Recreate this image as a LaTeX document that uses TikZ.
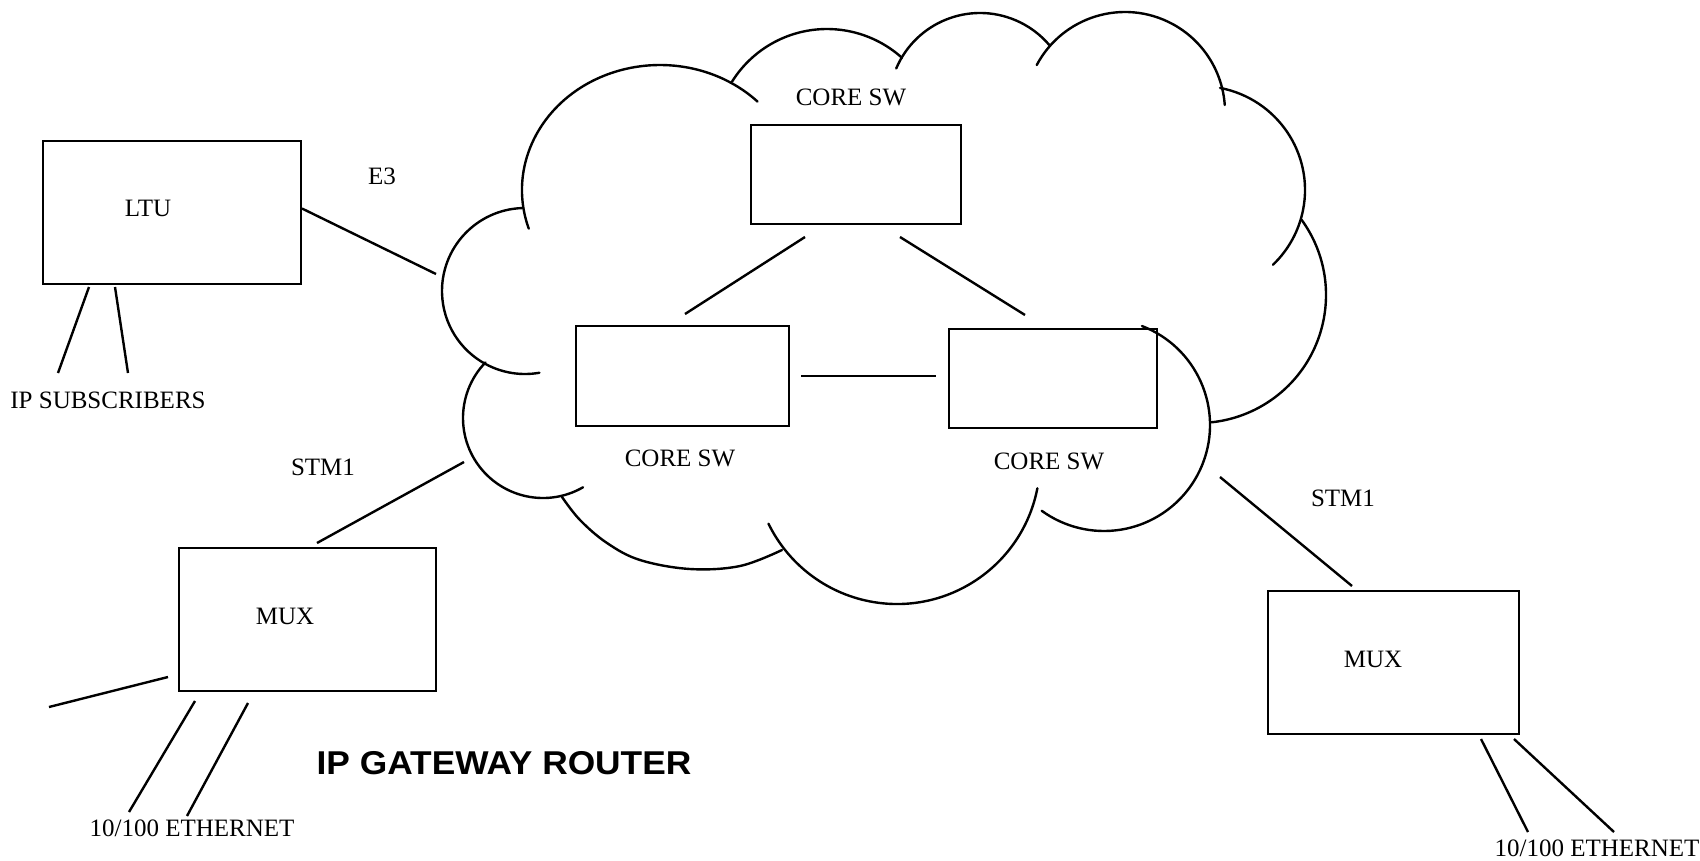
\documentclass[tikz,border=0pt]{standalone}
\usepackage{fontspec}
\usepackage{graphicx}
\setmainfont{Liberation Serif}
\newfontfamily\titlefont{Liberation Sans}
\usetikzlibrary{calc}
\begin{document}
\begin{tikzpicture}[x=1pt,y=-1pt,
  box/.style={draw, line width=2.4pt, rectangle, inner sep=0pt, outer sep=0pt},
  lbl/.style={inner sep=0pt, font=\fontsize{25}{30}\selectfont, text height=16.5pt, text depth=0pt},
  wire/.style={line width=2.4pt},
  cloudline/.style={line width=2.4pt, line cap=round}]
\useasboundingbox[fill=white] (0,0) rectangle (1700,860);

% boxes
\node[box, minimum width=258pt, minimum height=143pt] (ltu) at (172,212.5) {};
\node[box, minimum width=257pt, minimum height=143pt] (muxl) at (307.5,619.5) {};
\node[box, minimum width=251pt, minimum height=143pt] (muxr) at (1393.5,662.5) {};
\node[box, minimum width=210pt, minimum height=99pt] (coret) at (856,174.5) {};
\node[box, minimum width=213pt, minimum height=100pt] (corel) at (682.5,376) {};
\node[box, minimum width=208pt, minimum height=99pt] (corer) at (1053,378.5) {};

% labels
\node[lbl] (tltu) at (148,208) {LTU};
\node[lbl] (te3) at (382,176) {E3};
\node[lbl] (tip) at (108,400) {IP SUBSCRIBERS};
\node[lbl] (tstml) at (323,467) {STM1};
\node[lbl] (tmuxl) at (285,616) {MUX};
\node[lbl] (tethl) at (192,828) {10/100 ETHERNET};
\node[lbl] (tcoret) at (851,97) {CORE SW};
\node[lbl] (tcorel) at (680,458) {CORE SW};
\node[lbl] (tcorer) at (1049,461) {CORE SW};
\node[lbl] (tstmr) at (1343,498) {STM1};
\node[lbl] (tmuxr) at (1373,659) {MUX};
\node[lbl] (tethr) at (1597,848) {10/100 ETHERNET};
\node[inner sep=0pt, font=\titlefont\bfseries\fontsize{33}{38}\selectfont, text height=23.6pt, text depth=0pt] (title) at (504,763) {\scalebox{1.07}[1]{IP GATEWAY ROUTER}};

% cloud
\begin{scope}[cloudline]
\draw (660,190) ++(162:138 and 125) arc[start angle=162, end angle=315, x radius=138, y radius=125];
\draw (827,141) ++(212:112 and 112) arc[start angle=212, end angle=312, x radius=112, y radius=112];
\draw (980,104) ++(203:91 and 91) arc[start angle=203, end angle=320, x radius=91, y radius=91];
\draw (1125,112) ++(208:100 and 100) arc[start angle=208, end angle=356, x radius=100, y radius=100];
\draw (1200,190) ++(281:105 and 104) arc[start angle=281, end angle=406, x radius=105, y radius=104];
\draw (1198,295) ++(324:128 and 128) arc[start angle=324, end angle=444, x radius=128, y radius=128];
\draw (1104,425) ++(291:106 and 106) arc[start angle=291, end angle=486, x radius=106, y radius=106];
\draw (897,461) ++(11:143 and 143) arc[start angle=11, end angle=154, x radius=143, y radius=143];
\draw plot[smooth, tension=0.6] coordinates {(782,550) (740,566) (690,569) (640,560) (607,543) (580,520) (562,497)};
\draw (525,291) ++(268:83 and 83) arc[start angle=268, end angle=80, x radius=83, y radius=83];
\draw (543,418) ++(224:80 and 80) arc[start angle=224, end angle=60, x radius=80, y radius=80];
\end{scope}

% connector end points
\coordinate (e3end) at (436,274);
\coordinate (ipa1) at (89,287);  \coordinate (ipa2) at (58,373);
\coordinate (ipb1) at (115,287); \coordinate (ipb2) at (128,373);
\coordinate (stml1) at (317,543); \coordinate (stml2) at (464,462);
\coordinate (strayA) at (168,677); \coordinate (strayB) at (49,707);
\coordinate (etla1) at (195,701); \coordinate (etla2) at (129,812);
\coordinate (etlb1) at (248,703); \coordinate (etlb2) at (187,816);
\coordinate (stmr1) at (1220,477); \coordinate (stmr2) at (1352,586);
\coordinate (etra1) at (1481,739); \coordinate (etra2) at (1528,832);
\coordinate (etrb1) at (1514,739); \coordinate (etrb2) at (1614,832);
\coordinate (ctl1) at (805,237); \coordinate (ctl2) at (685,314);
\coordinate (ctr1) at (900,237); \coordinate (ctr2) at (1025,315);
\coordinate (ch1) at (801,376); \coordinate (ch2) at (936,376);

% connectors
\draw[wire] ($(ltu.east)+(1,-4)$) -- (e3end);
\draw[wire] (ipa1) -- (ipa2);
\draw[wire] (ipb1) -- (ipb2);
\draw[wire] (stml1) -- (stml2);
\draw[wire] (strayA) -- (strayB);
\draw[wire] (etla1) -- (etla2);
\draw[wire] (etlb1) -- (etlb2);
\draw[wire] (stmr1) -- (stmr2);
\draw[wire] (etra1) -- (etra2);
\draw[wire] (etrb1) -- (etrb2);
\draw[wire] (ctl1) -- (ctl2);
\draw[wire] (ctr1) -- (ctr2);
\draw[wire] (ch1) -- (ch2);
\end{tikzpicture}
\end{document}
